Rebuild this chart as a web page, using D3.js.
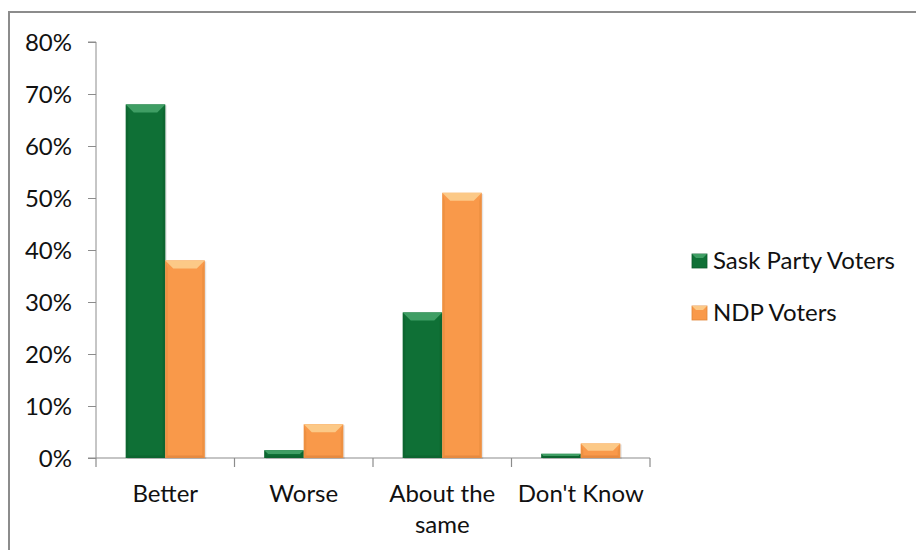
<!DOCTYPE html>
<html>
<head>
<meta charset="utf-8">
<script src="https://cdn.jsdelivr.net/npm/d3@7"></script>
<style>
  body { margin: 0; background: #fff; }
  svg text { font-family: Lato, "Open Sans", sans-serif; fill: #111; }
</style>
</head>
<body>
<div id="chart"></div>
<script>
// Chart values
const categories = ["Better", "Worse", "About the same", "Don't Know"];
const categoryLines = [["Better"], ["Worse"], ["About the", "same"], ["Don't Know"]];
const seriesNames = ["Sask Party Voters", "NDP Voters"];
const saskValues = [0.68, 0.015, 0.28, 0.008];
const ndpValues = [0.38, 0.065, 0.51, 0.028];
const yTicks = [0, 0.1, 0.2, 0.3, 0.4, 0.5, 0.6, 0.7, 0.8];

const palette = {
  "Sask Party Voters": { body: "#0f7036", top: "#3f9e64", side: "#0a5a2b", bottom: "#0b5e2d" },
  "NDP Voters": { body: "#f9994a", top: "#fcc987", side: "#e08538", bottom: "#d9803a" }
};

const width = 916, height = 550;
const margin = { top: 42, left: 96, right: 266, bottom: 92 };

const svg = d3.select("#chart").append("svg").attr("width", width).attr("height", height);

// Outer chart border (cropped on the right and bottom)
svg.append("path")
  .attr("d", `M9,${height + 5}V12H${width + 5}`)
  .attr("fill", "none").attr("stroke", "#8c8c8c").attr("stroke-width", 2);

const plotW = 650 - margin.left;
const plotH = 458 - margin.top;
const g = svg.append("g").attr("transform", `translate(${margin.left},${margin.top})`);

const x = d3.scaleBand().domain(categories).range([0, plotW]).padding(0);
const xs = d3.scaleBand().domain(seriesNames).range([0, x.bandwidth()]).paddingInner(0).paddingOuter(0.753);
const y = d3.scaleLinear().domain([0, 0.8]).range([plotH, 0]);

// Y axis
const yAxis = d3.axisLeft(y).tickValues(yTicks).tickFormat(d3.format(".0%")).tickSize(8).tickPadding(16);
const yG = g.append("g").call(yAxis);
yG.select(".domain").attr("stroke", "#8c8c8c").attr("d", `M-8,0H0V${plotH}H-8`);
yG.selectAll(".tick line").attr("stroke", "#8c8c8c");
yG.selectAll(".tick text").style("font-size", "24px").attr("dy", "0.36em");

// X axis with ticks between categories
const xG = g.append("g").attr("transform", `translate(0,${plotH})`);
xG.append("line").attr("x1", 0).attr("x2", plotW).attr("stroke", "#8c8c8c").attr("stroke-width", 1.2);
const bounds = categories.map(c => x(c)).concat([plotW]);
xG.selectAll("line.tk").data(bounds).enter().append("line").attr("class", "tk")
  .attr("x1", d => d).attr("x2", d => d).attr("y1", 0).attr("y2", 9)
  .attr("stroke", "#8c8c8c").attr("stroke-width", 1.2);

const catLabels = xG.selectAll("text.cat").data(categories).enter().append("text").attr("class", "cat")
  .attr("text-anchor", "middle").style("font-size", "24px")
  .attr("transform", d => `translate(${x(d) + x.bandwidth() / 2},44)`);
catLabels.each(function (d, i) {
  d3.select(this).selectAll("tspan").data(categoryLines[i]).enter().append("tspan")
    .attr("x", 0).attr("y", (_, j) => j * 31).text(t => t);
});

// Bars with a bevelled look
const rows = [];
categories.forEach((c, i) => {
  rows.push({ cat: c, series: seriesNames[0], value: saskValues[i] });
  rows.push({ cat: c, series: seriesNames[1], value: ndpValues[i] });
});

const bars = g.append("g").selectAll("g.bar").data(rows).enter().append("g").attr("class", "bar");
bars.each(function (d) {
  const sel = d3.select(this);
  const bx = x(d.cat) + xs(d.series);
  const bw = xs.bandwidth();
  const by = y(d.value);
  const bh = plotH - by;
  const col = palette[d.series];
  const b = Math.min(8, bh / 2);
  sel.append("rect").attr("x", bx + 1.5).attr("y", by + 1).attr("width", bw).attr("height", bh)
    .attr("fill", "#000").attr("opacity", 0.1);
  sel.append("rect").attr("x", bx).attr("y", by).attr("width", bw).attr("height", bh).attr("fill", col.body);
  // left / right sides
  sel.append("path").attr("fill", col.side).attr("opacity", 0.45)
    .attr("d", `M${bx},${by}L${bx + 2.5},${by + b}V${by + bh - Math.min(2.5, bh / 2)}L${bx},${by + bh}Z`);
  sel.append("path").attr("fill", col.side).attr("opacity", 0.45)
    .attr("d", `M${bx + bw},${by}L${bx + bw - 2.5},${by + b}V${by + bh - Math.min(2.5, bh / 2)}L${bx + bw},${by + bh}Z`);
  // bottom edge
  sel.append("path").attr("fill", col.bottom).attr("opacity", 0.6)
    .attr("d", `M${bx},${by + bh}L${bx + 2.5},${by + bh - Math.min(2.5, bh / 2)}H${bx + bw - 2.5}L${bx + bw},${by + bh}Z`);
  // top bevel
  sel.append("path").attr("fill", col.top)
    .attr("d", `M${bx},${by}H${bx + bw}L${bx + bw - b},${by + b}H${bx + b}Z`);
});

// Legend
const legend = svg.append("g").attr("transform", "translate(692,254)");
const items = legend.selectAll("g").data(seriesNames).enter().append("g")
  .attr("transform", (_, i) => `translate(0,${i * 52})`);
items.append("rect").attr("width", 15).attr("height", 14).attr("fill", d => palette[d].body)
  .attr("stroke", d => palette[d].side).attr("stroke-width", 0.8);
items.append("path").attr("d", "M0,0H15L11,4H4Z").attr("fill", d => palette[d].top);
items.append("text").attr("x", 21).attr("y", 15).style("font-size", "24px").text(d => d);
</script>
</body>
</html>
